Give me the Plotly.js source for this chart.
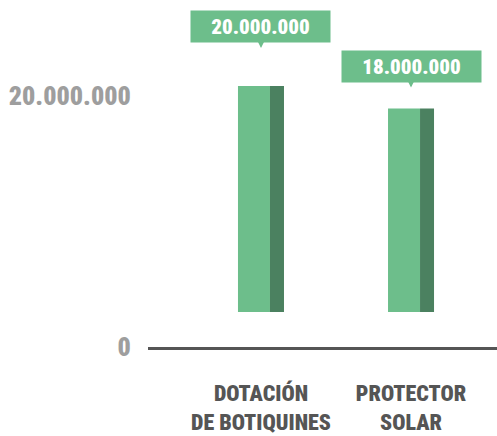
<!DOCTYPE html>
<html>
<head>
<meta charset="utf-8">
<script src="https://cdn.plot.ly/plotly-3.0.1.min.js"></script>
<style>html,body{margin:0;padding:0;background:#fff;}#chart{width:497px;height:436px;}</style>
</head>
<body>
<div id="chart"></div>
<script>
// Data
const categories = ['DOTACIÓN<br>DE BOTIQUINES', 'PROTECTOR<br>SOLAR'];
const values = [20000000, 18000000];
const tickValues = [0, 20000000];
const tickLabels = ['0', '20.000.000'];

// Styles
const FRONT = '#6dbe8b';
const SIDE = '#4b8160';
const FONT = '"Roboto Condensed", "Open Sans Condensed", sans-serif';
const PX = 1 / 150; // one pixel in category units
const labelShift = [38, 21];

const fmt = v => v.toLocaleString('de-DE');

const front = {
  type: 'bar', x: categories, y: values,
  width: 32 * PX, offset: -23 * PX,
  marker: { color: FRONT, line: { width: 0 } },
  hoverinfo: 'skip', yaxis: 'y'
};
const side = {
  type: 'bar', x: categories, y: values,
  width: 14 * PX, offset: 9 * PX,
  marker: { color: SIDE, line: { width: 0 } },
  hoverinfo: 'skip', yaxis: 'y'
};
// invisible carrier so the tick axis is drawn
const tickCarrier = {
  type: 'scatter', x: tickValues.map(() => categories[0]), y: tickValues,
  mode: 'none', yaxis: 'y2', hoverinfo: 'skip'
};

const annotations = categories.map((c, i) => ({
  x: c, y: values[i], xref: 'x', yref: 'y',
  text: fmt(values[i]),
  font: { family: FONT, size: 21, color: '#ffffff', weight: 900 },
  bgcolor: FRONT, borderpad: 0, width: 139, height: 31,
  showarrow: true, ax: 0, ay: -21.5, arrowhead: 2, arrowsize: 1,
  arrowwidth: 1.4, arrowcolor: FRONT, standoff: 0,
  yshift: labelShift[i]
}));

const layout = {
  width: 497, height: 436,
  margin: { l: 148, r: 0, t: 10, b: 89 },
  paper_bgcolor: '#ffffff', plot_bgcolor: '#ffffff',
  barmode: 'overlay', showlegend: false,
  xaxis: {
    type: 'category', range: [-0.753, 1.573], fixedrange: true,
    showline: true, linecolor: '#555555', linewidth: 3,
    showgrid: false, zeroline: false, ticks: '', tickangle: 0,
    tickfont: { family: FONT, size: 22, color: '#555555', weight: 900 },
    ticklabelstandoff: 25
  },
  yaxis: {
    range: [-3097000, 26726000], visible: false,
    showgrid: false, zeroline: false
  },
  yaxis2: {
    overlaying: 'y', side: 'left', anchor: 'x', range: [0, 26853000],
    tickmode: 'array', tickvals: tickValues, ticktext: tickLabels,
    showgrid: false, zeroline: false, showline: false,
    ticks: 'outside', ticklen: 11, tickcolor: 'rgba(0,0,0,0)',
    tickfont: { family: FONT, size: 26, color: '#9e9e9e', weight: 900 }
  },
  annotations: annotations
};

Plotly.newPlot('chart', [front, side, tickCarrier], layout, { staticPlot: true, displayModeBar: false });
</script>
</body>
</html>
